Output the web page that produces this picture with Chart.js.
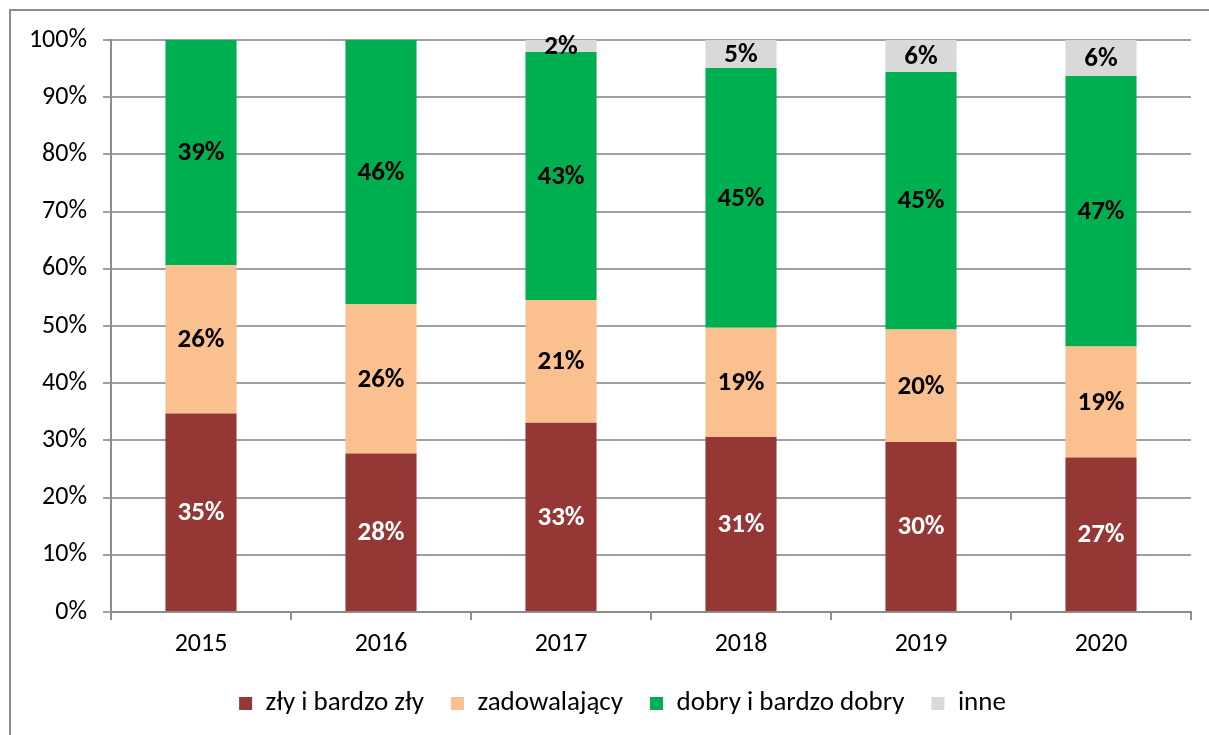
<!DOCTYPE html>
<html>
<head>
<meta charset="utf-8">
<script src="https://cdn.jsdelivr.net/npm/chart.js@4.4.1/dist/chart.umd.min.js"></script>
<style>
  html, body { margin: 0; padding: 0; background: #fff; overflow: hidden; }
  #frame { position: absolute; left: 9px; top: 9px; width: 1300px; height: 800px;
           border-left: 2px solid #8c8c8c; border-top: 2px solid #8c8c8c; }
  #wrap { position: absolute; left: 0; top: 0; width: 1209px; height: 735px; }
</style>
</head>
<body>
<div id="frame"></div>
<div id="wrap"><canvas id="c" width="1209" height="735"></canvas></div>
<script>
const categories = ['2015', '2016', '2017', '2018', '2019', '2020'];
const zly = [34.7, 27.7, 33.1, 30.6, 29.7, 27.0];
const zadowalajacy = [25.9, 26.1, 21.4, 19.1, 19.7, 19.4];
const dobry = [39.4, 46.2, 43.4, 45.4, 45.0, 47.3];
const inne = [0, 0, 2.1, 4.9, 5.6, 6.3];
const seriesNames = ['zły i bardzo zły', 'zadowalający', 'dobry i bardzo dobry', 'inne'];
const yTicks = [0, 10, 20, 30, 40, 50, 60, 70, 80, 90, 100];

const FONT = "Carlito, Lato, 'Open Sans', sans-serif";

const labelPlugin = {
  id: 'barLabels',
  afterDatasetsDraw(chart) {
    const ctx = chart.ctx;
    ctx.save();
    ctx.font = "bold 27px " + FONT;
    ctx.textAlign = 'center';
    ctx.textBaseline = 'middle';
    chart.data.datasets.forEach((ds, di) => {
      const meta = chart.getDatasetMeta(di);
      meta.data.forEach((bar, i) => {
        const v = ds.data[i];
        if (!v) return;
        const y = (bar.y + bar.base) / 2;
        ctx.fillStyle = di === 0 ? '#ffffff' : '#000000';
        ctx.fillText(Math.round(v) + '%', bar.x, y + 1);
      });
    });
    ctx.restore();
  }
};

const legendShift = {
  id: 'legendShift',
  afterLayout(chart) {
    if (chart.legend) { chart.legend.left += 27; chart.legend.right += 27; }
  }
};

new Chart(document.getElementById('c'), {
  type: 'bar',
  data: {
    labels: categories,
    datasets: [
      { label: seriesNames[0], data: zly, backgroundColor: '#953735' },
      { label: seriesNames[1], data: zadowalajacy, backgroundColor: '#FAC090' },
      { label: seriesNames[2], data: dobry, backgroundColor: '#00B050' },
      { label: seriesNames[3], data: inne, backgroundColor: '#D9D9D9' }
    ]
  },
  options: {
    responsive: false,
    animation: false,
    layout: { padding: { left: 0, right: 18, top: 40, bottom: 8 } },
    datasets: { bar: { barPercentage: 0.395, categoryPercentage: 1.0 } },
    plugins: {
      legend: {
        position: 'bottom',
        labels: {
          font: { family: FONT, size: 27 },
          color: '#000',
          boxWidth: 13, boxHeight: 13,
          padding: 27
        }
      },
      tooltip: { enabled: false }
    },
    scales: {
      x: {
        stacked: true,
        grid: { offset: true, drawOnChartArea: false, color: '#8c8c8c', lineWidth: 2, tickLength: 8 },
        border: { display: true, color: '#8c8c8c', width: 2 },
        ticks: { font: { family: FONT, size: 26 }, color: '#000', padding: 9 },
        afterFit(scale) { scale.height = 51; }
      },
      y: {
        stacked: true,
        min: 0, max: 100,
        afterBuildTicks(scale) { scale.ticks = yTicks.map(v => ({ value: v })); },
        grid: { color: '#a0a0a0', lineWidth: 2, tickLength: 8 },
        border: { display: true, color: '#8c8c8c', width: 2 },
        ticks: { font: { family: FONT, size: 26 }, color: '#000', padding: 16,
                 callback: v => v + '%' },
        afterFit(scale) { scale.width = 111; }
      }
    }
  },
  plugins: [labelPlugin, legendShift]
});
</script>
</body>
</html>
